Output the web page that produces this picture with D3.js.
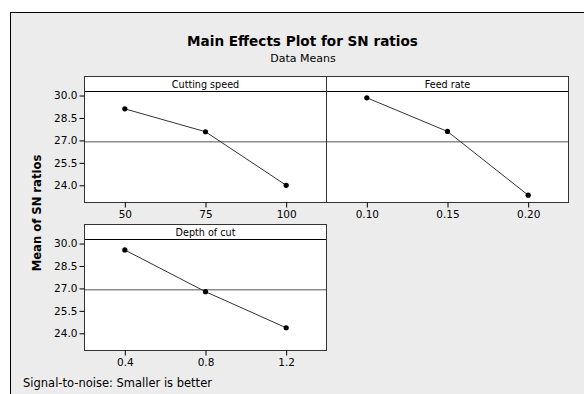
<!DOCTYPE html>
<html>
<head>
<meta charset="utf-8">
<style>
body { margin: 0; background: #fff; }
svg { display: block; font-family: "DejaVu Sans", sans-serif; }
.axis .domain { display: none; }
.axis text { font-size: 10.5px; fill: #000; font-family: "DejaVu Sans", sans-serif; }
.axis line { stroke: #000; }
.strip { font-family: "DejaVu Sans Condensed", "DejaVu Sans", sans-serif; }
</style>
</head>
<body>
<svg width="584" height="394"></svg>
<script src="https://d3js.org/d3.v7.min.js"></script>
<script>

// factors and their levels
var factors = ["Cutting speed", "Feed rate", "Depth of cut"];
var cuttingSpeed = [50, 75, 100];
var feedRate = [0.10, 0.15, 0.20];
var depthOfCut = [0.4, 0.8, 1.2];

// mean SN ratios per level
var snCuttingSpeed = [29.11, 27.58, 24.00];
var snFeedRate = [29.85, 27.60, 23.34];
var snDepthOfCut = [29.57, 26.78, 24.37];

var yTicks = [24.0, 25.5, 27.0, 28.5, 30.0];
var xTickFormats = ["d", ".2f", ".1f"];

var svg = d3.select("svg");

// frame
svg.append("rect")
    .attr("x", 10.5).attr("y", 12.5)
    .attr("width", 600).attr("height", 400)
    .attr("fill", "#ececec")
    .attr("stroke", "#000");

svg.append("text")
    .attr("x", 302.5).attr("y", 41).attr("dy", "0.35em")
    .attr("text-anchor", "middle")
    .attr("font-size", 13.6).attr("font-weight", "bold")
    .text("Main Effects Plot for SN ratios");

svg.append("text")
    .attr("x", 303).attr("y", 58).attr("dy", "0.35em")
    .attr("text-anchor", "middle")
    .attr("font-size", 11)
    .text("Data Means");

svg.append("text")
    .attr("transform", "translate(37,213) rotate(-90)")
    .attr("dy", "0.35em")
    .attr("text-anchor", "middle")
    .attr("font-size", 11.6).attr("font-weight", "bold")
    .text("Mean of SN ratios");

svg.append("text")
    .attr("x", 23).attr("y", 383).attr("dy", "0.35em")
    .attr("font-size", 11.5)
    .text("Signal-to-noise: Smaller is better");

var levels = [cuttingSpeed, feedRate, depthOfCut];
var sn = [snCuttingSpeed, snFeedRate, snDepthOfCut];
var all = d3.merge(sn);
var grandMean = d3.mean(all);

var pw = 242, ph = 126, strip = 15;
var cells = [[84, 76], [326, 76], [84, 224]];

var y = d3.scaleLinear().domain([22.85, 30.27]).range([ph, strip]);

factors.forEach(function(name, i) {
  var lv = levels[i];
  var step = lv[1] - lv[0];
  var x = d3.scaleLinear()
      .domain([lv[0] - step / 2, lv[lv.length - 1] + step / 2])
      .range([0, pw]);

  var g = svg.append("g")
      .attr("transform", "translate(" + (cells[i][0] + 0.5) + "," + (cells[i][1] + 0.5) + ")");

  g.append("rect")
      .attr("width", pw).attr("height", ph)
      .attr("fill", "#fff");

  // reference line at grand mean
  g.append("line")
      .attr("x1", 0).attr("x2", pw)
      .attr("y1", y(grandMean)).attr("y2", y(grandMean))
      .attr("stroke", "#8c8c8c").attr("stroke-width", 1.5);

  var pts = lv.map(function(v, j) { return [v, sn[i][j]]; });

  g.append("path")
      .datum(pts)
      .attr("fill", "none")
      .attr("stroke", "#333")
      .attr("stroke-width", 1)
      .attr("d", d3.line().x(function(d) { return x(d[0]); }).y(function(d) { return y(d[1]); }));

  g.selectAll("circle")
      .data(pts)
      .enter().append("circle")
      .attr("cx", function(d) { return x(d[0]); })
      .attr("cy", function(d) { return y(d[1]); })
      .attr("r", 2.6)
      .attr("fill", "#000");

  // strip
  g.append("line")
      .attr("x1", 0).attr("x2", pw)
      .attr("y1", strip).attr("y2", strip)
      .attr("stroke", "#000");

  g.append("text")
      .attr("class", "strip")
      .attr("x", pw / 2).attr("y", strip / 2).attr("dy", "0.35em")
      .attr("text-anchor", "middle")
      .attr("font-size", 10.7)
      .text(name);

  g.append("rect")
      .attr("width", pw).attr("height", ph)
      .attr("fill", "none")
      .attr("stroke", "#333");

  g.append("g")
      .attr("class", "axis")
      .attr("transform", "translate(0," + ph + ")")
      .call(d3.axisBottom(x).tickValues(lv).tickSize(5).tickPadding(3).tickFormat(d3.format(xTickFormats[i])));

  if (cells[i][0] === 84) {
    g.append("g")
        .attr("class", "axis")
        .call(d3.axisLeft(y).tickValues(yTicks).tickSize(5).tickPadding(2).tickFormat(d3.format(".1f")));
  }
});

</script>
</body>
</html>
